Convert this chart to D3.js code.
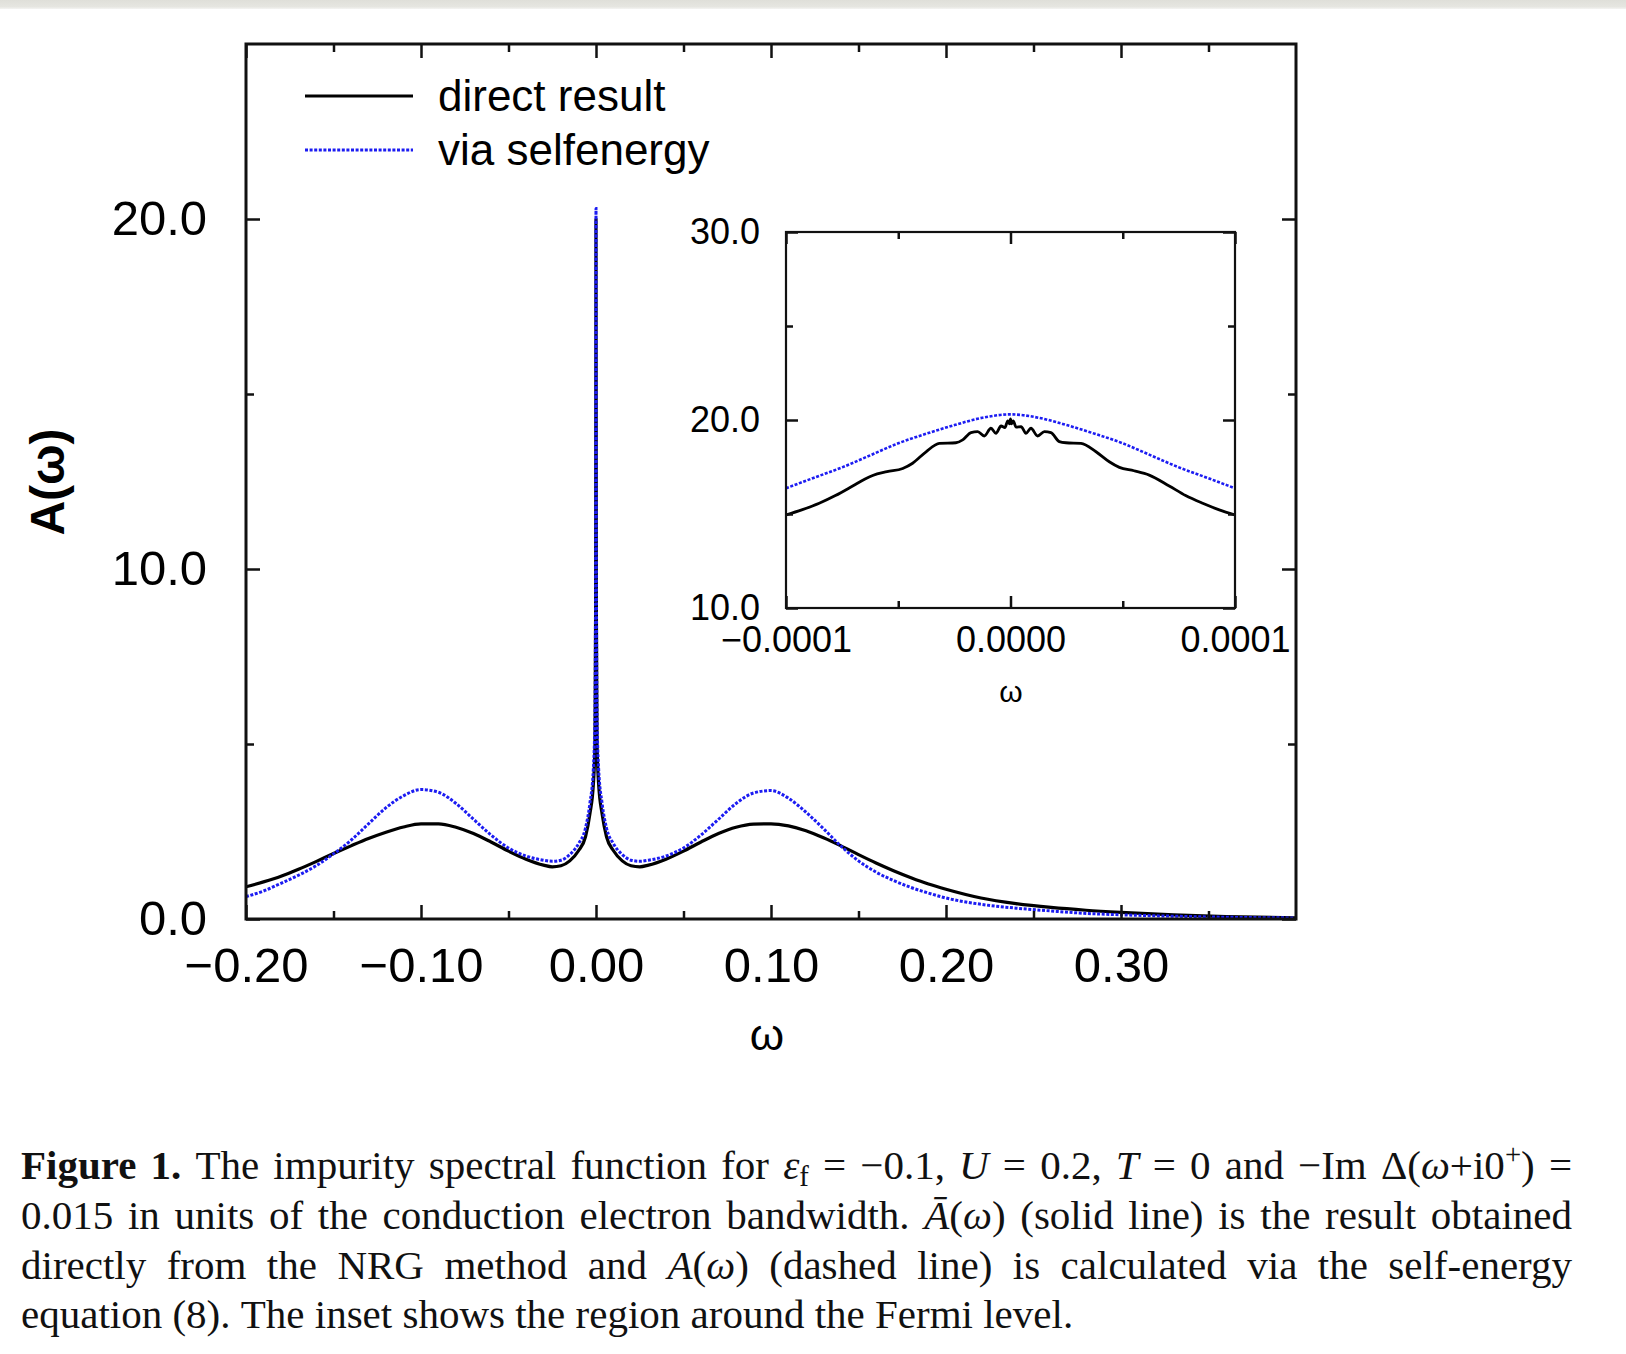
<!DOCTYPE html>
<html>
<head>
<meta charset="utf-8">
<script src="https://cdn.jsdelivr.net/npm/d3@7"></script>
<style>
  html, body { margin: 0; padding: 0; background: #fff; }
  svg { display: block; }
  .sans { font-family: "Liberation Sans", Arial, Helvetica, sans-serif; }
  .serif { font-family: "Liberation Serif", "Times New Roman", serif; }
</style>
</head>
<body>
<svg id="fig" width="1626" height="1354"></svg>
<script>
// ---- Spectral function A(ω), full range (grid is dense around the Kondo resonance) ----
const omega = [
  -0.20, -0.19, -0.18, -0.17, -0.16, -0.15, -0.14, -0.13, -0.12, -0.11,
  -0.10, -0.09, -0.08, -0.07, -0.06, -0.05, -0.04, -0.03, -0.025, -0.02,
  -0.015, -0.01, -0.006, -0.0035, -0.0015, -0.0006, -0.0002, -0.0001, -0.00005,
  0,
  0.00005, 0.0001, 0.0002, 0.0006, 0.0015, 0.0035, 0.006, 0.01, 0.015, 0.02,
  0.025, 0.03, 0.04, 0.05, 0.06, 0.07, 0.08, 0.09, 0.10, 0.11,
  0.12, 0.13, 0.14, 0.15, 0.16, 0.17, 0.18, 0.19, 0.20, 0.22,
  0.24, 0.26, 0.28, 0.30, 0.33, 0.36, 0.40
];
// direct NRG result (solid)
const directA = [
  0.92, 1.06, 1.22, 1.42, 1.64, 1.87, 2.09, 2.30, 2.48, 2.63,
  2.72, 2.72, 2.62, 2.44, 2.20, 1.94, 1.71, 1.54, 1.49, 1.52,
  1.66, 1.95, 2.35, 3.00, 3.85, 5.00, 9.0, 14.95, 17.5,
  20.0,
  17.5, 14.95, 9.0, 5.00, 3.85, 3.00, 2.35, 1.95, 1.66, 1.52,
  1.49, 1.54, 1.71, 1.94, 2.20, 2.44, 2.62, 2.71, 2.72, 2.66,
  2.52, 2.32, 2.09, 1.84, 1.60, 1.38, 1.18, 1.00, 0.85, 0.60,
  0.44, 0.33, 0.25, 0.19, 0.12, 0.07, 0.03
];
// via the self-energy equation (dotted)
const selfEnergyA = [
  0.64, 0.80, 1.02, 1.25, 1.52, 1.86, 2.25, 2.72, 3.18, 3.52,
  3.70, 3.62, 3.30, 2.85, 2.40, 2.03, 1.80, 1.68, 1.65, 1.68,
  1.84, 2.15, 2.60, 3.30, 4.30, 5.80, 10.5, 16.37, 18.8,
  20.3,
  18.8, 16.37, 10.5, 5.80, 4.30, 3.30, 2.60, 2.15, 1.84, 1.68,
  1.65, 1.68, 1.80, 2.03, 2.40, 2.85, 3.30, 3.60, 3.67, 3.45,
  3.05, 2.58, 2.08, 1.66, 1.34, 1.10, 0.90, 0.74, 0.60, 0.42,
  0.31, 0.23, 0.16, 0.12, 0.08, 0.05, 0.03
];

// ---- Inset: region around the Fermi level ----
const insetOmegaDirect = [
  -1.0e-4, -0.93e-4, -0.852e-4, -0.78e-4, -0.703e-4, -0.65e-4, -0.614e-4, -0.55e-4,
  -0.48e-4, -0.436e-4, -0.376e-4, -0.317e-4, -0.243e-4, -0.213e-4, -0.176e-4,
  -0.146e-4, -0.117e-4, -0.087e-4, -0.065e-4, -0.042e-4, -0.025e-4, -0.012e-4,
  -0.004e-4, 0, 0.004e-4, 0.012e-4, 0.025e-4, 0.047e-4, 0.069e-4, 0.091e-4,
  0.121e-4, 0.151e-4, 0.18e-4, 0.2175e-4, 0.247e-4, 0.314e-4, 0.381e-4, 0.44e-4,
  0.485e-4, 0.55e-4, 0.618e-4, 0.707e-4, 0.78e-4, 0.856e-4, 0.93e-4, 1.0e-4
];
const insetDirectA = [
  14.95, 15.22, 15.57, 15.98, 16.49, 16.85, 17.05, 17.25,
  17.42, 17.70, 18.31, 18.76, 18.79, 18.94, 19.33,
  19.38, 19.15, 19.56, 19.29, 19.68, 19.60, 19.95,
  19.80, 20.06, 19.80, 19.95, 19.62, 19.65, 19.29, 19.56,
  19.15, 19.38, 19.33, 18.85, 18.79, 18.76, 18.31, 17.78,
  17.48, 17.30, 17.07, 16.49, 15.98, 15.57, 15.22, 14.95
];
const insetOmegaSelf = [
  -1.0e-4, -0.875e-4, -0.75e-4, -0.625e-4, -0.5e-4, -0.375e-4, -0.25e-4, -0.125e-4,
  0, 0.125e-4, 0.25e-4, 0.375e-4, 0.5e-4, 0.625e-4, 0.75e-4, 0.875e-4, 1.0e-4
];
const insetSelfA = [
  16.37, 16.93, 17.48, 18.12, 18.76, 19.27, 19.73, 20.12,
  20.30, 20.12, 19.73, 19.27, 18.76, 18.12, 17.48, 16.93, 16.37
];

// ---- Ticks ----
const mainXMajor = [-0.2, -0.1, 0.0, 0.1, 0.2, 0.3];
const mainXMinor = [-0.15, -0.05, 0.05, 0.15, 0.25, 0.35];
const mainYMajor = [0, 10, 20];
const mainYMinor = [5, 15];
const insetXMajor = [-1e-4, 0, 1e-4];
const insetXMinor = [-0.5e-4, 0.5e-4];
const insetYMajor = [10, 20, 30];
const insetYMinor = [15, 25];

const seriesNames = ["direct result", "via selfenergy"];

// ---- Caption (light markup: **bold**, *italic*, _sub_, ^sup^) ----
const captionLines = [
  "**Figure** **1.** The impurity spectral function for *ε*_f_ = −0.1, *U* = 0.2, *T* = 0 and −Im Δ(*ω*+i0^+^) =",
  "0.015 in units of the conduction electron bandwidth. *Ā*(*ω*) (solid line) is the result obtained",
  "directly from the NRG method and *A*(*ω*) (dashed line) is calculated via the self-energy",
  "equation (8). The inset shows the region around the Fermi level."
];

// ================= drawing =================
const W = 1626, H = 1354;
const svg = d3.select("#fig");
const BLUE = "#1c1cf2";
const INK = "#111";

// soft grey strip along the top edge of the page
const grad = svg.append("defs").append("linearGradient")
  .attr("id", "topband").attr("x1", 0).attr("y1", 0).attr("x2", 0).attr("y2", 1);
grad.append("stop").attr("offset", "0%").attr("stop-color", "#dfdfd9");
grad.append("stop").attr("offset", "75%").attr("stop-color", "#e6e6e1");
grad.append("stop").attr("offset", "100%").attr("stop-color", "#f4f4f2");
svg.append("rect").attr("x", 0).attr("y", 0).attr("width", W).attr("height", 9)
  .attr("fill", "url(#topband)");

// ---------- main panel ----------
const M = { left: 246, right: 1296, top: 44, bottom: 919 };
const x = d3.scaleLinear().domain([-0.2, 0.4]).range([M.left, M.right]);
const y = d3.scaleLinear().domain([0, 25]).range([M.bottom, M.top]);

svg.append("clipPath").attr("id", "mainClip")
  .append("rect").attr("x", M.left).attr("y", M.top)
  .attr("width", M.right - M.left).attr("height", M.bottom - M.top);

function styleAxis(g, fontSize) {
  g.select(".domain").remove();
  g.selectAll(".tick line").attr("stroke", INK).attr("stroke-width", 2.5);
  g.attr("font-family", null).attr("font-size", null);
  g.selectAll("text").attr("class", "sans").attr("fill", "#000")
    .style("font-size", fontSize + "px");
}

function frameAxes(xs, ys, box, opt) {
  const g = svg.append("g");
  // bottom, labelled
  g.append("g").attr("transform", `translate(0,${box.bottom})`)
    .call(d3.axisBottom(xs).tickValues(opt.xMajor).tickSize(-opt.major)
      .tickPadding(opt.xPad).tickFormat(d3.format(opt.xFmt)))
    .call(a => styleAxis(a, opt.font));
  g.append("g").attr("transform", `translate(0,${box.bottom})`)
    .call(d3.axisBottom(xs).tickValues(opt.xMinor).tickSize(-opt.minor).tickFormat(""))
    .call(a => styleAxis(a, opt.font));
  // top mirror
  g.append("g").attr("transform", `translate(0,${box.top})`)
    .call(d3.axisTop(xs).tickValues(opt.xMajor).tickSize(-opt.major).tickFormat(""))
    .call(a => styleAxis(a, opt.font));
  g.append("g").attr("transform", `translate(0,${box.top})`)
    .call(d3.axisTop(xs).tickValues(opt.xMinor).tickSize(-opt.minor).tickFormat(""))
    .call(a => styleAxis(a, opt.font));
  // left, labelled
  g.append("g").attr("transform", `translate(${box.left},0)`)
    .call(d3.axisLeft(ys).tickValues(opt.yMajor).tickSize(-opt.major)
      .tickPadding(opt.yPad).tickFormat(d3.format(".1f")))
    .call(a => styleAxis(a, opt.font));
  g.append("g").attr("transform", `translate(${box.left},0)`)
    .call(d3.axisLeft(ys).tickValues(opt.yMinor).tickSize(-opt.minor).tickFormat(""))
    .call(a => styleAxis(a, opt.font));
  // right mirror
  g.append("g").attr("transform", `translate(${box.right},0)`)
    .call(d3.axisRight(ys).tickValues(opt.yMajor).tickSize(-opt.major).tickFormat(""))
    .call(a => styleAxis(a, opt.font));
  g.append("g").attr("transform", `translate(${box.right},0)`)
    .call(d3.axisRight(ys).tickValues(opt.yMinor).tickSize(-opt.minor).tickFormat(""))
    .call(a => styleAxis(a, opt.font));
  // frame
  g.append("rect").attr("x", box.left).attr("y", box.top)
    .attr("width", box.right - box.left).attr("height", box.bottom - box.top)
    .attr("fill", "none").attr("stroke", INK).attr("stroke-width", opt.frame);
  return g;
}

// curves in the main panel
const mainLine = (vals) => d3.line()
  .x((d, i) => x(omega[i])).y((d) => y(d))
  .curve(d3.curveMonotoneX)(vals);

const curves = svg.append("g").attr("clip-path", "url(#mainClip)");
curves.append("path").attr("d", mainLine(directA))
  .attr("fill", "none").attr("stroke", "#000").attr("stroke-width", 3.2)
  .attr("stroke-linejoin", "round");
curves.append("path").attr("d", mainLine(selfEnergyA))
  .attr("fill", "none").attr("stroke", BLUE).attr("stroke-width", 3)
  .attr("stroke-dasharray", "3,1.6");

frameAxes(x, y, M, {
  xMajor: mainXMajor, xMinor: mainXMinor, yMajor: mainYMajor, yMinor: mainYMinor,
  major: 14, minor: 8, xPad: 28, yPad: 39, xFmt: ".2f", font: 49, frame: 3
});

// axis titles
svg.append("text").attr("class", "sans")
  .attr("x", 767).attr("y", 1050).attr("text-anchor", "middle")
  .style("font-size", "44px").text("ω");
svg.append("text").attr("class", "sans")
  .attr("transform", "translate(64,482) rotate(-90)")
  .attr("text-anchor", "middle").style("font-size", "48px").style("font-weight", "bold")
  .text("A(ω)");

// legend
const legend = svg.append("g");
const legendRows = [
  { name: seriesNames[0], y: 96, color: "#000", dash: null },
  { name: seriesNames[1], y: 150, color: BLUE, dash: "3,1.6" }
];
legendRows.forEach(r => {
  legend.append("line").attr("x1", 305).attr("x2", 413).attr("y1", r.y).attr("y2", r.y)
    .attr("stroke", r.color).attr("stroke-width", 3).attr("stroke-dasharray", r.dash);
  legend.append("text").attr("class", "sans").attr("x", 438).attr("y", r.y + 15)
    .style("font-size", "44px").text(r.name);
});

// ---------- inset ----------
const I = { left: 786, right: 1235, top: 232, bottom: 608 };
const xi = d3.scaleLinear().domain([-1e-4, 1e-4]).range([I.left, I.right]);
const yi = d3.scaleLinear().domain([10, 30]).range([I.bottom, I.top]);

svg.append("rect").attr("x", I.left).attr("y", I.top)
  .attr("width", I.right - I.left).attr("height", I.bottom - I.top).attr("fill", "#fff");
svg.append("clipPath").attr("id", "insetClip")
  .append("rect").attr("x", I.left).attr("y", I.top)
  .attr("width", I.right - I.left).attr("height", I.bottom - I.top);

const insetCurves = svg.append("g").attr("clip-path", "url(#insetClip)");
insetCurves.append("path")
  .attr("d", d3.line().x((d, i) => xi(insetOmegaDirect[i])).y(d => yi(d))
    .curve(d3.curveMonotoneX)(insetDirectA))
  .attr("fill", "none").attr("stroke", "#000").attr("stroke-width", 2.8)
  .attr("stroke-linejoin", "round");
insetCurves.append("path")
  .attr("d", d3.line().x((d, i) => xi(insetOmegaSelf[i])).y(d => yi(d))
    .curve(d3.curveMonotoneX)(insetSelfA))
  .attr("fill", "none").attr("stroke", BLUE).attr("stroke-width", 2.6)
  .attr("stroke-dasharray", "3,1.6");

frameAxes(xi, yi, I, {
  xMajor: insetXMajor, xMinor: insetXMinor, yMajor: insetYMajor, yMinor: insetYMinor,
  major: 12, minor: 7, xPad: 18, yPad: 26, xFmt: ".4f", font: 36, frame: 2.2
});
svg.append("text").attr("class", "sans")
  .attr("x", 1011).attr("y", 702).attr("text-anchor", "middle")
  .style("font-size", "30px").text("ω");

// ---------- caption, fully justified ----------
const CAP = { left: 21, right: 1572, size: 41, baselines: [1179, 1229, 1279, 1328] };

function parseRuns(word) {
  const re = /(\*\*[^*]+\*\*|\*[^*]+\*|_[^_]+_|\^[^^]+\^|[^*_^]+)/g;
  const runs = [];
  let m;
  while ((m = re.exec(word)) !== null) {
    const t = m[0];
    if (t.startsWith("**")) runs.push({ t: t.slice(2, -2), kind: "b" });
    else if (t.startsWith("*")) runs.push({ t: t.slice(1, -1), kind: "i" });
    else if (t.startsWith("_")) runs.push({ t: t.slice(1, -1), kind: "sub" });
    else if (t.startsWith("^")) runs.push({ t: t.slice(1, -1), kind: "sup" });
    else runs.push({ t, kind: "n" });
  }
  return runs;
}

const capG = svg.append("g").attr("class", "serif");
captionLines.forEach((line, li) => {
  const words = line.split(" ");
  const nodes = words.map(w => {
    const t = capG.append("text").attr("x", 0).attr("y", 0)
      .style("font-size", CAP.size + "px").attr("fill", "#111");
    let shift = 0;
    parseRuns(w).forEach(r => {
      const ts = t.append("tspan").text(r.t);
      let target = 0;
      if (r.kind === "b") ts.style("font-weight", "bold");
      if (r.kind === "i") ts.style("font-style", "italic");
      if (r.kind === "sub") { target = 7; ts.style("font-size", (CAP.size * 0.7) + "px"); }
      if (r.kind === "sup") { target = -15; ts.style("font-size", (CAP.size * 0.7) + "px"); }
      if (target !== shift) { ts.attr("dy", target - shift); shift = target; }
    });
    return t;
  });
  const widths = nodes.map(n => n.node().getComputedTextLength());
  const total = d3.sum(widths);
  const justify = li < captionLines.length - 1;
  const gap = justify ? (CAP.right - CAP.left - total) / (words.length - 1) : CAP.size * 0.25;
  let cx = CAP.left;
  nodes.forEach((n, i) => {
    n.attr("transform", `translate(${cx},${CAP.baselines[li]})`);
    cx += widths[i] + gap;
  });
});
</script>
</body>
</html>
